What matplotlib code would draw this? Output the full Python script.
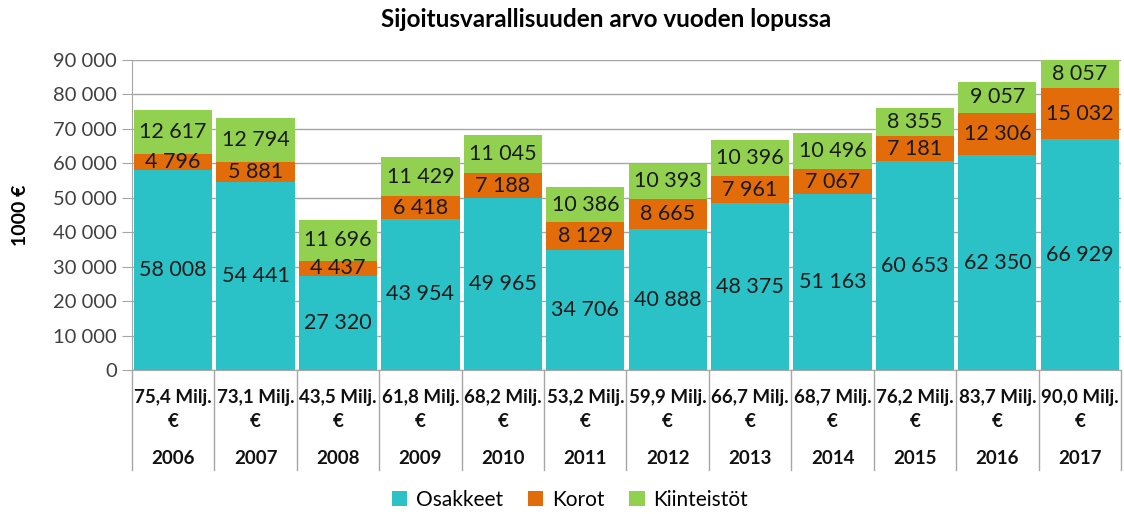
import matplotlib
matplotlib.use("Agg")
import matplotlib.pyplot as plt
from matplotlib.patches import Patch

plt.rcParams['font.family'] = ['Lato', 'DejaVu Sans']

years = ["2006", "2007", "2008", "2009", "2010", "2011", "2012", "2013", "2014", "2015", "2016", "2017"]
totals = ["75,4", "73,1", "43,5", "61,8", "68,2", "53,2", "59,9", "66,7", "68,7", "76,2", "83,7", "90,0"]
osakkeet = [58008, 54441, 27320, 43954, 49965, 34706, 40888, 48375, 51163, 60653, 62350, 66929]
korot = [4796, 5881, 4437, 6418, 7188, 8129, 8665, 7961, 7067, 7181, 12306, 15032]
kiinteistot = [12617, 12794, 11696, 11429, 11045, 10386, 10393, 10396, 10496, 8355, 9057, 8057]
series_names = ["Osakkeet", "Korot", "Kiinteistöt"]
colors = ["#2BC2C7", "#E36C0A", "#92D050"]

def fmt(v):
    return f"{v:,}".replace(",", " ")

fig = plt.figure(figsize=(11.24, 5.14), dpi=100)
ax = fig.add_axes([0.1174, 0.2802, 0.8799, 0.6031])

x = list(range(len(years)))
bottom = [0] * len(years)
for vals, col in zip([osakkeet, korot, kiinteistot], colors):
    ax.bar(x, vals, bottom=bottom, width=0.95, color=col, zorder=2)
    for xi, v, b in zip(x, vals, bottom):
        yc = b + v / 2
        if yc < 90000:
            ax.text(xi, yc, fmt(v), ha="center", va="center", fontsize=15.5,
                    color="#1a1a1a", zorder=3, clip_on=True)
    bottom = [b + v for b, v in zip(bottom, vals)]

ax.set_xlim(-0.5, len(years) - 0.5)
ax.set_ylim(0, 90000)
ax.set_yticks(range(0, 90001, 10000))
ax.set_yticklabels([fmt(v) for v in range(0, 90001, 10000)], fontsize=14.5, color="#404040")
ax.yaxis.grid(True, color="#A6A6A6", lw=1, zorder=0)
ax.set_axisbelow(True)
ax.tick_params(axis="y", length=7, color="#A6A6A6", pad=4)
ax.tick_params(axis="x", length=0, labelbottom=False)
for s in ["top", "right"]:
    ax.spines[s].set_visible(False)
for s in ["left", "bottom"]:
    ax.spines[s].set_color("#A6A6A6")

# category table below
trans = ax.get_xaxis_transform()
for i in range(len(years) + 1):
    ax.plot([i - 0.5, i - 0.5], [0, -0.3226], transform=trans, color="#A6A6A6",
            lw=1, clip_on=False)
for xi, t, y in zip(x, totals, years):
    ax.text(xi, -0.129, f"{t} Milj.\n€", transform=trans, ha="center", va="center",
            fontsize=13.5, fontweight="bold", linespacing=1.5, color="#111111")
    ax.text(xi, -0.284, y, transform=trans, ha="center", va="center",
            fontsize=13.5, fontweight="bold", color="#111111")

ax.set_ylabel("1000 €", fontsize=14, fontweight="bold", labelpad=17)
fig.text(0.539, 0.962, "Sijoitusvarallisuuden arvo vuoden lopussa", ha="center",
         va="center", fontsize=17.5, fontweight="bold")

handles = [Patch(facecolor=c, label=n) for c, n in zip(colors, series_names)]
fig.legend(handles=handles, loc="center", bbox_to_anchor=(0.507, 0.027), ncol=3,
           frameon=False, fontsize=15, handlelength=0.75, handleheight=0.75,
           columnspacing=1.2, handletextpad=0.4)

fig.savefig("out.png", dpi=100)
